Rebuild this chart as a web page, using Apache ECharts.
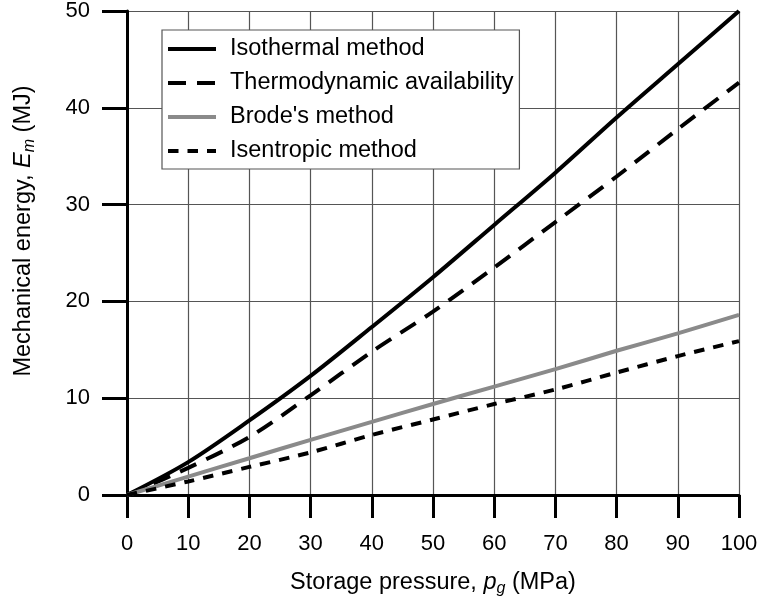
<!DOCTYPE html>
<html>
<head>
<meta charset="utf-8">
<script src="https://cdn.jsdelivr.net/npm/echarts@6/dist/echarts.min.js"></script>
<style>
  html, body { margin: 0; padding: 0; background: #fff; }
  #chart { width: 761px; height: 602px; }
</style>
</head>
<body>
<div id="chart"></div>
<script>
// Storage pressure p_g (MPa)
const pressure = [0, 10, 20, 30, 40, 50, 60, 70, 80, 90, 100];

// Mechanical energy E_m (MJ) by estimation method
const isothermal = [0, 3.4, 7.7, 12.3, 17.35, 22.5, 27.9, 33.3, 39.0, 44.5, 50.0];
const thermoAvail = [0, 2.8, 6.0, 10.3, 14.8, 18.95, 23.5, 28.2, 32.9, 37.8, 42.6];
const brode = [0, 1.9, 3.8, 5.7, 7.55, 9.4, 11.2, 13.0, 14.9, 16.7, 18.6];
const isentropic = [0, 1.4, 2.9, 4.4, 6.2, 7.8, 9.4, 10.9, 12.65, 14.35, 15.9];

const seriesNames = ['Isothermal method', 'Thermodynamic availability', "Brode's method", 'Isentropic method'];

const xTicks = { min: 0, max: 100, step: 10 };
const yTicks = { min: 0, max: 50, step: 10 };

const FONT = 'Liberation Sans, Arial, Helvetica, sans-serif';

// line looks, shared by series and their legend entries
const looks = [
  { color: '#000', type: 'solid' },
  { color: '#000', type: [18, 11] },
  { color: '#8a8a8a', type: 'solid' },
  { color: '#000', type: [10.5, 9] }
];

function pairs(ys) {
  return pressure.map((x, i) => [x, ys[i]]);
}

function lineSeries(idx, ys) {
  const lk = looks[idx];
  return {
    name: seriesNames[idx],
    type: 'line',
    data: pairs(ys),
    smooth: 0.3,
    symbol: 'none',
    showSymbol: false,
    lineStyle: { color: lk.color, width: 4, type: lk.type, cap: 'butt' },
    itemStyle: { color: lk.color },
    z: 5
  };
}

const axisRich = {
  t: { fontFamily: FONT, fontSize: 23.5, color: '#000' },
  i: { fontFamily: FONT, fontSize: 23.5, color: '#000', fontStyle: 'italic' },
  s: { fontFamily: FONT, fontSize: 16, color: '#000', fontStyle: 'italic', padding: [13, 0, 0, 0] }
};

const chart = echarts.init(document.getElementById('chart'), null, { renderer: 'canvas' });

chart.setOption({
  animation: false,
  backgroundColor: '#fff',
  grid: { left: 127, right: 22, top: 9, bottom: 103, containLabel: false },
  xAxis: {
    type: 'value',
    min: xTicks.min, max: xTicks.max, interval: xTicks.step,
    name: '{t|Storage pressure, }{i|p}{s|g}{t| (MPa)}',
    nameLocation: 'middle',
    nameGap: 73,
    nameTextStyle: { rich: axisRich },
    axisLine: { show: true, onZero: false, lineStyle: { color: '#000', width: 3 } },
    axisTick: { show: true, inside: false, length: 23, lineStyle: { color: '#000', width: 3 } },
    axisLabel: { margin: 38, fontFamily: FONT, fontSize: 22, color: '#000' },
    splitLine: { show: true, lineStyle: { color: '#555', width: 1.2 } }
  },
  yAxis: {
    type: 'value',
    min: yTicks.min, max: yTicks.max, interval: yTicks.step,
    name: '{t|Mechanical energy, }{i|E}{s|m}{t| (MJ)}',
    nameLocation: 'middle',
    nameGap: 89,
    nameRotate: 90,
    nameTextStyle: { rich: axisRich, padding: [0, 0, 0, 44] },
    axisLine: { show: true, onZero: false, lineStyle: { color: '#000', width: 3 } },
    axisTick: { show: true, inside: false, length: 25, lineStyle: { color: '#000', width: 3 } },
    axisLabel: { margin: 37, fontFamily: FONT, fontSize: 22, color: '#000' },
    splitLine: { show: true, lineStyle: { color: '#555', width: 1.2 } }
  },
  legend: {
    show: true,
    orient: 'vertical',
    left: 162,
    top: 30,
    padding: [7, 6, 6, 4],
    itemGap: 10,
    itemWidth: 48,
    itemHeight: 14,
    backgroundColor: '#fff',
    borderColor: '#555',
    borderWidth: 1.2,
    itemStyle: { color: 'rgba(0,0,0,0)', borderWidth: 0, opacity: 0 },
    textStyle: { fontFamily: FONT, fontSize: 23.5, color: '#000', lineHeight: 23, padding: [0, 0, 0, 9] },
    data: seriesNames.map((n, i) => ({
      name: n,
      lineStyle: { color: looks[i].color, width: 4, type: looks[i].type, cap: 'butt' }
    }))
  },
  series: [
    lineSeries(0, isothermal),
    lineSeries(1, thermoAvail),
    lineSeries(2, brode),
    lineSeries(3, isentropic)
  ]
});
</script>
</body>
</html>
